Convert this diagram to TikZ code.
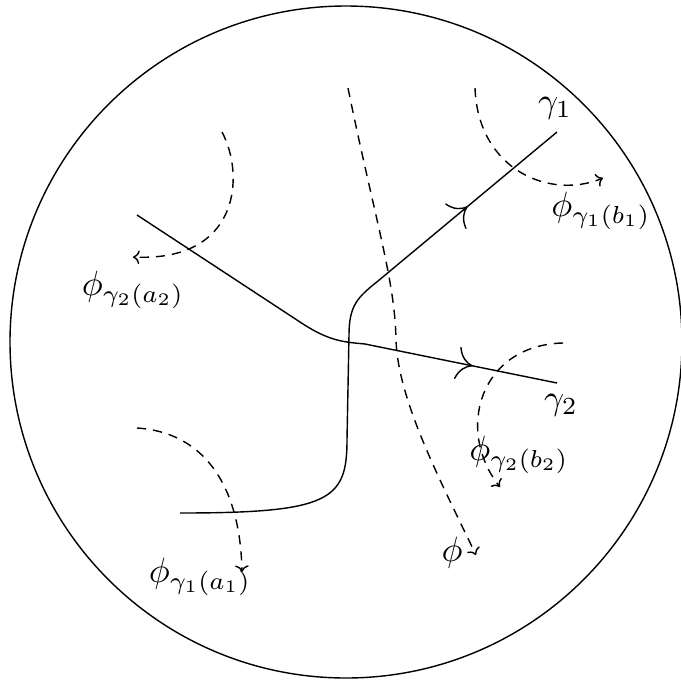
\documentclass[tikz,border=0pt]{standalone}
\usetikzlibrary{arrows.meta,decorations.markings}

\begin{document}
\begin{tikzpicture}[
    x=0.01cm, y=-0.01cm,
    curve/.style={line width=0.4pt},
    flow/.style={line width=0.4pt, dash pattern=on 2.6pt off 2pt, -{To[scale=0.75]}},
    midarrow/.style={postaction={decorate}, decoration={markings,
        mark=at position #1 with {\arrow{To[scale=1.8]}}}},
    lbl/.style={inner sep=0pt, font=\normalsize},
]
\useasboundingbox (0,0) rectangle (681,684);

% Disco
\draw[curve] (346,342) circle (336);

% Curva gamma_1
\coordinate (g1start) at (180,513);
\coordinate (g1low)   at (347,440);
\coordinate (g1high)  at (349,335);
\coordinate (g1bend)  at (378,281);
\coordinate (g1end)   at (557,132);
\draw[curve] (g1start) .. controls (330,513) and (347,500) .. (g1low)
    -- (g1high) .. controls (349,305) and (358,297) .. (g1bend);
\draw[curve, midarrow=0.5] (g1bend) -- (g1end);

% Curva gamma_2
\coordinate (g2start) at (137,215);
\coordinate (g2knee)  at (300,322);
\coordinate (g2mid)   at (365,344);
\coordinate (g2end)   at (557,383);
\draw[curve] (g2start) -- (g2knee) .. controls (330,342) and (345,342) .. (g2mid);
\draw[curve, midarrow=0.56] (g2mid) -- (g2end);

% Flujo phi
\coordinate (phitop) at (348,88);
\coordinate (phimid) at (396,340);
\coordinate (phiend) at (476,555);
\draw[flow] (phitop) .. controls (375,220) and (395,280) .. (phimid)
    .. controls (398,400) and (440,480) .. (phiend);

% Flujos locales
\draw[flow] (475,88) .. controls (478,170) and (550,200) .. (603,178);
\draw[flow] (222,132) .. controls (245,175) and (240,262) .. (133,257);
\draw[flow] (563,343) .. controls (480,345) and (455,430) .. (500,487);
\draw[flow] (137,428) .. controls (200,432) and (240,480) .. (242,572);

% Etiquetas
\node[lbl] (gam1)  at (555,108) {$\gamma_1$};
\node[lbl] (gam2)  at (561,405) {$\gamma_2$};
\node[lbl] (phib1) at (601,211) {$\phi_{\gamma_1(b_1)}$};
\node[lbl] (phia2) at (133,290) {$\phi_{\gamma_2(a_2)}$};
\node[lbl] (phib2) at (519,455) {$\phi_{\gamma_2(b_2)}$};
\node[lbl] (phia1) at (200,577) {$\phi_{\gamma_1(a_1)}$};
\node[lbl] (phi)   at (452,553) {$\phi$};

\end{tikzpicture}
\end{document}
